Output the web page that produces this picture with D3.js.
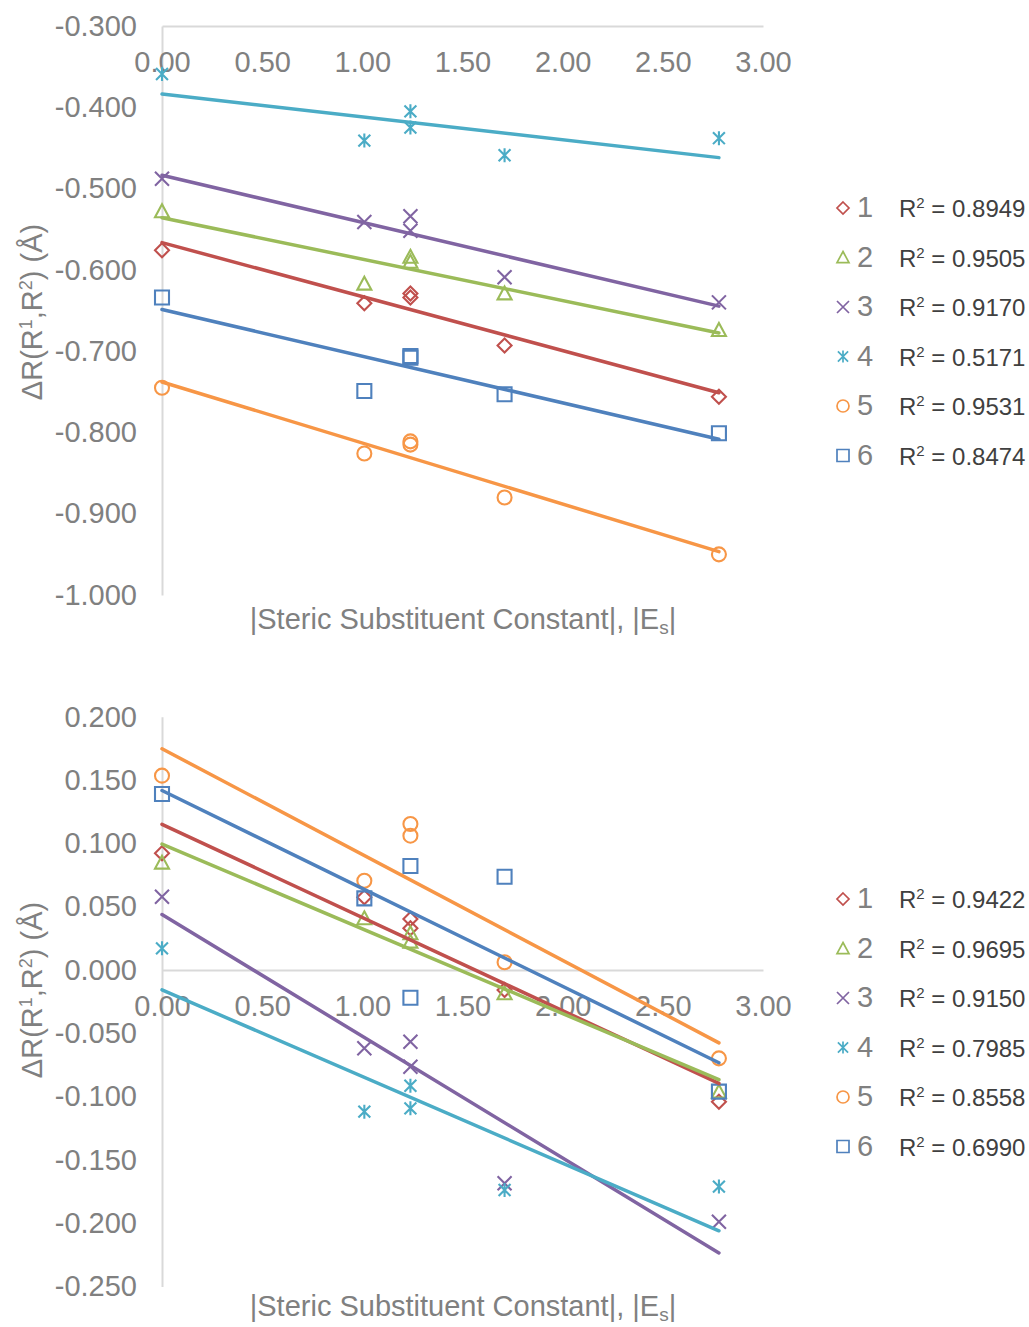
<!DOCTYPE html>
<html>
<head>
<meta charset="utf-8">
<script src="https://cdn.jsdelivr.net/npm/d3@7"></script>
<style>
  html, body { margin: 0; padding: 0; background: #fff; }
  svg { display: block; }
</style>
</head>
<body>
<div id="chart"></div>
<script>
// |Es| of the substituents (two entries share 1.24)
const esValues = [0, 1.01, 1.24, 1.24, 1.71, 2.78];
const seriesNames = ['1', '2', '3', '4', '5', '6'];
const xTicks = [0, 0.5, 1, 1.5, 2, 2.5, 3];

// upper panel
const top1 = [-0.576, -0.641, -0.629, -0.634, -0.693, -0.756];
const top2 = [-0.528, -0.617, -0.584, -0.590, -0.629, -0.674];
const top3 = [-0.488, -0.541, -0.534, -0.552, -0.609, -0.640];
const top4 = [-0.359, -0.441, -0.405, -0.425, -0.459, -0.438];
const top5 = [-0.745, -0.826, -0.811, -0.815, -0.880, -0.950];
const top6 = [-0.634, -0.749, -0.706, -0.708, -0.753, -0.801];
const topR2 = ['0.8949', '0.9505', '0.9170', '0.5171', '0.9531', '0.8474'];
const topYTicks = [-0.3, -0.4, -0.5, -0.6, -0.7, -0.8, -0.9, -1.0];

// lower panel
const bot1 = [0.0922, 0.0574, 0.0403, 0.0329, -0.0158, -0.1040];
const bot2 = [0.0848, 0.0408, 0.0290, 0.0224, -0.0184, -0.0961];
const bot3 = [0.0579, -0.0619, -0.0566, -0.0764, -0.1685, -0.1988];
const bot4 = [0.0171, -0.1119, -0.0914, -0.1093, -0.1738, -0.1711];
const bot5 = [0.1535, 0.0705, 0.1153, 0.1061, 0.0061, -0.0698];
const bot6 = [0.1390, 0.0566, 0.0821, -0.0219, 0.0737, -0.0961];
const botR2 = ['0.9422', '0.9695', '0.9150', '0.7985', '0.8558', '0.6990'];
const botYTicks = [0.2, 0.15, 0.1, 0.05, 0, -0.05, -0.1, -0.15, -0.2, -0.25];

const colors = ['#C0504D', '#9BBB59', '#8064A2', '#4BACC6', '#F79646', '#4F81BD'];
const shapes = ['diamond', 'triangle', 'times', 'asterisk', 'circle', 'square'];

const FONT = '"Liberation Sans", Arial, sans-serif';
const GREY = '#808080';
const AXIS = '#D9D9D9';

const svg = d3.select('#chart').append('svg')
  .attr('width', 1029).attr('height', 1327)
  .style('font-family', FONT);

const x = d3.scaleLinear().domain([0, 3]).range([162, 763]);

// plain hyphen instead of d3's unicode minus
const fmt = (spec) => { const f = d3.format(spec); return d => f(d).replace('\u2212', '-'); };

function markerPath(shape, h) {
  if (shape === 'diamond') return `M0,${-h}L${h},0L0,${h}L${-h},0Z`;
  if (shape === 'triangle') return `M0,${-h}L${h},${h * 0.85}L${-h},${h * 0.85}Z`;
  if (shape === 'times') return `M${-h},${-h}L${h},${h}M${-h},${h}L${h},${-h}`;
  if (shape === 'asterisk') { const a = h * 0.85; return `M${-a},${-a}L${a},${a}M${-a},${a}L${a},${-a}M0,${-h}L0,${h}`; }
  if (shape === 'square') return `M${-h},${-h}H${h}V${h}H${-h}Z`;
  return null;
}

function drawMarker(g, shape, color, cx, cy, h, sw) {
  if (shape === 'circle') {
    g.append('circle').attr('cx', cx).attr('cy', cy).attr('r', h)
      .attr('fill', 'none').attr('stroke', color).attr('stroke-width', sw);
  } else {
    g.append('path').attr('d', markerPath(shape, h))
      .attr('transform', `translate(${cx},${cy})`)
      .attr('fill', 'none').attr('stroke', color).attr('stroke-width', sw);
  }
}

function linFit(xs, ys) {
  const mx = d3.mean(xs), my = d3.mean(ys);
  let sxy = 0, sxx = 0;
  xs.forEach((v, i) => { sxy += (v - mx) * (ys[i] - my); sxx += (v - mx) ** 2; });
  const b = sxy / sxx;
  return { b, a: my - b * mx };
}

function drawPanel({ series, r2, yTicks, yDomain, yRange, crossAt, legendTop, xTitleY, yTitleY }) {
  const y = d3.scaleLinear().domain(yDomain).range(yRange);
  const g = svg.append('g');

  // vertical axis with labels
  const yAxis = g.append('g').attr('transform', `translate(${x(0)},0)`)
    .call(d3.axisLeft(y).tickValues(yTicks).tickFormat(fmt('.3f'))
      .tickSize(0).tickPadding(25));
  yAxis.select('.domain').attr('stroke', AXIS).attr('stroke-width', 2);
  yAxis.selectAll('text').attr('fill', GREY).attr('font-size', 29).attr('font-family', FONT);

  // horizontal axis with labels
  const xAxis = g.append('g').attr('transform', `translate(0,${y(crossAt)})`)
    .call(d3.axisBottom(x).tickValues(xTicks).tickFormat(fmt('.2f'))
      .tickSize(0).tickPadding(25));
  xAxis.select('.domain').attr('stroke', AXIS).attr('stroke-width', 2);
  xAxis.selectAll('text').attr('fill', GREY).attr('font-size', 29).attr('font-family', FONT);

  // markers
  const mk = g.append('g');
  series.forEach((vals, si) => {
    vals.forEach((v, i) => drawMarker(mk, shapes[si], colors[si], x(esValues[i]), y(v), 7, 2.1));
  });

  // linear trend lines
  const tl = g.append('g');
  series.forEach((vals, si) => {
    const { a, b } = linFit(esValues, vals);
    const x0 = d3.min(esValues), x1 = d3.max(esValues);
    tl.append('line')
      .attr('x1', x(x0)).attr('y1', y(a + b * x0))
      .attr('x2', x(x1)).attr('y2', y(a + b * x1))
      .attr('stroke', colors[si]).attr('stroke-width', 3.5).attr('stroke-linecap', 'round');
  });

  // axis titles
  const xt = g.append('text').attr('x', 463).attr('y', xTitleY)
    .attr('text-anchor', 'middle').attr('fill', GREY).attr('font-size', 29);
  xt.append('tspan').text('|Steric Substituent Constant|, |E');
  xt.append('tspan').attr('dy', 5).attr('font-size', 19).text('s');
  xt.append('tspan').attr('dy', -5).text('|');

  const yt = g.append('text').attr('transform', `translate(42,${yTitleY}) rotate(-90)`)
    .attr('text-anchor', 'middle').attr('fill', GREY).attr('font-size', 29);
  yt.append('tspan').text('\u0394R(R');
  yt.append('tspan').attr('dy', -10).attr('font-size', 18).text('1');
  yt.append('tspan').attr('dy', 10).text(',R');
  yt.append('tspan').attr('dy', -10).attr('font-size', 18).text('2');
  yt.append('tspan').attr('dy', 10).text(') (\u00C5)');

  // legend
  const lg = g.append('g');
  seriesNames.forEach((name, i) => {
    const cy = legendTop + i * 49.5;
    drawMarker(lg, shapes[i], colors[i], 843, cy, 6, 1.7);
    lg.append('text').attr('x', 857).attr('y', cy + 9)
      .attr('fill', GREY).attr('font-size', 29).text(name);
    const t = lg.append('text').attr('x', 899).attr('y', cy + 9)
      .attr('fill', '#404040').attr('font-size', 24);
    t.append('tspan').text('R');
    t.append('tspan').attr('dy', -9).attr('font-size', 15).text('2');
    t.append('tspan').attr('dy', 9).text(` = ${r2[i]}`);
  });
}

drawPanel({
  series: [top1, top2, top3, top4, top5, top6],
  r2: topR2, yTicks: topYTicks,
  yDomain: [-0.3, -1.0], yRange: [26, 595], crossAt: -0.3,
  legendTop: 208, xTitleY: 629, yTitleY: 312,
});

drawPanel({
  series: [bot1, bot2, bot3, bot4, bot5, bot6],
  r2: botR2, yTicks: botYTicks,
  yDomain: [0.2, -0.25], yRange: [716.8, 1286.5], crossAt: 0,
  legendTop: 899, xTitleY: 1316, yTitleY: 990,
});
</script>
</body>
</html>
